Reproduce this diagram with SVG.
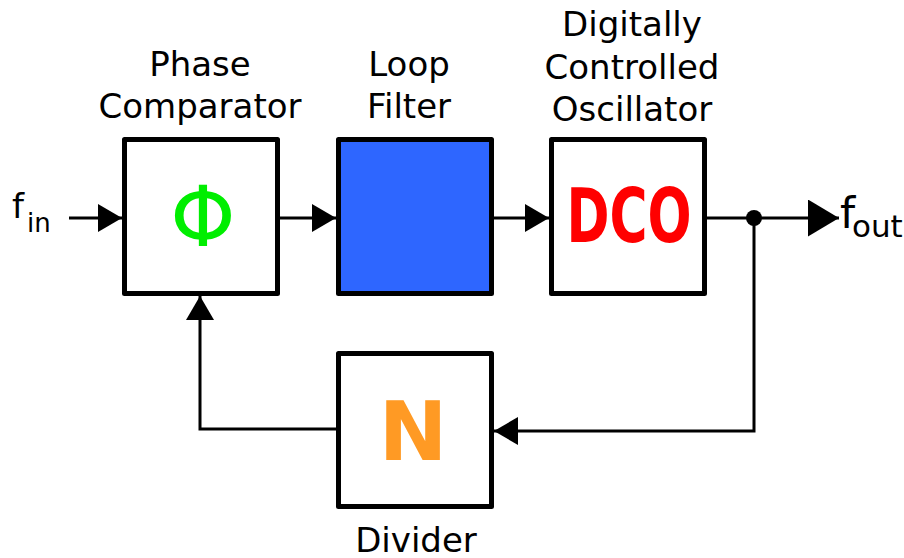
<svg xmlns="http://www.w3.org/2000/svg" width="904" height="558" viewBox="0 0 904 558">
  <style>
    .box { fill: #ffffff; stroke: #000000; stroke-width: 5; stroke-linejoin: round; }
    .wire { fill: none; stroke: #000000; stroke-width: 3; }
    .label { font-family: "DejaVu Sans", "Liberation Sans", sans-serif; font-size: 34px; fill: #000000; text-anchor: middle; }
    .sym { font-family: "DejaVu Sans", "Liberation Sans", sans-serif; text-anchor: middle; }
    .sig { font-family: "DejaVu Sans", "Liberation Sans", sans-serif; fill: #000000; }
  </style>
  <defs>
    <marker id="arrow" markerUnits="userSpaceOnUse" markerWidth="24" markerHeight="28" refX="24" refY="14" orient="auto" viewBox="0 0 24 28">
      <path d="M0,0 L24,14 L0,28 Z" fill="#000000"/>
    </marker>
    <marker id="arrowBig" markerUnits="userSpaceOnUse" markerWidth="31" markerHeight="37" refX="31" refY="18.5" orient="auto" viewBox="0 0 31 37">
      <path d="M0,0 L31,18.5 L0,37 Z" fill="#000000"/>
    </marker>
  </defs>

  <!-- signal paths -->
  <g id="connectors">
    <path class="wire" d="M69,218 H122" marker-end="url(#arrow)"/>
    <path class="wire" d="M280,218 H336" marker-end="url(#arrow)"/>
    <path class="wire" d="M494,218 H549" marker-end="url(#arrow)"/>
    <path class="wire" d="M707,218 H839" marker-end="url(#arrowBig)"/>
    <path class="wire" d="M754,218 V431 H494" marker-end="url(#arrow)"/>
    <path class="wire" d="M336,429 H200 V296" marker-end="url(#arrow)"/>
    <circle cx="754" cy="218" r="8" fill="#000000"/>
  </g>

  <!-- input / output signal names -->
  <g id="f-in">
    <text class="sig" x="12" y="218" font-size="34">f<tspan x="27" y="232" font-size="26">in</tspan></text>
  </g>
  <g id="f-out">
    <text class="sig" x="840" y="228" font-size="43">f<tspan x="852" y="237" font-size="31">out</tspan></text>
  </g>

  <g id="phase-comparator">
    <text class="label" x="200" y="76">Phase</text>
    <text class="label" x="200" y="118">Comparator</text>
    <rect class="box" x="124.5" y="139.5" width="153" height="154"/>
    <text class="sym" x="203" y="246" font-size="83" fill="#00ee00">Φ</text>
  </g>

  <g id="loop-filter">
    <text class="label" x="409" y="76">Loop</text>
    <text class="label" x="409" y="118">Filter</text>
    <rect class="box" x="338.5" y="139.5" width="153" height="154" style="fill:#2e66ff"/>
  </g>

  <g id="dco">
    <text class="label" x="632" y="36">Digitally</text>
    <text class="label" x="632" y="78.5">Controlled</text>
    <text class="label" x="632" y="121">Oscillator</text>
    <rect class="box" x="551.5" y="139.5" width="153" height="154"/>
    <text class="sym" x="629" y="242" font-size="74" font-weight="bold" fill="#ff0000" textLength="125" lengthAdjust="spacingAndGlyphs">DCO</text>
  </g>

  <g id="divider">
    <rect class="box" x="338.5" y="353.5" width="153" height="153"/>
    <text class="sym" x="413" y="460" font-size="82" font-weight="bold" fill="#ff9a24">N</text>
    <text class="label" x="416" y="552">Divider</text>
  </g>
</svg>
